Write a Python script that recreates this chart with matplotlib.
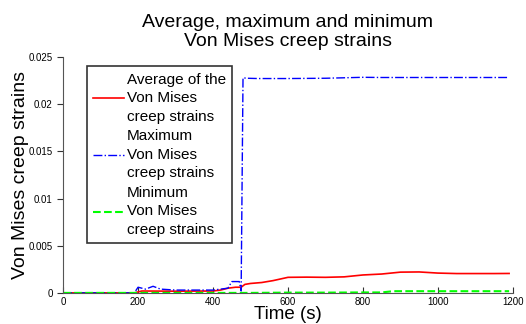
import matplotlib.pyplot as plt
import numpy as np

plt.rcParams['font.family'] = ['Liberation Sans', 'DejaVu Sans']

# time samples (s) and strain curves
t_avg = [0, 190, 210, 300, 400, 420, 440, 460, 475, 485, 500, 530, 560, 600, 650, 700, 750, 800, 850, 900, 950, 1000, 1050, 1100, 1150, 1190]
avg = [0, 0, 0.0002, 0.00018, 0.0002, 0.0003, 0.0005, 0.0006, 0.0006, 0.0009, 0.001, 0.0011, 0.0013, 0.00165, 0.00167, 0.00165, 0.0017, 0.0019, 0.0020, 0.0022, 0.00222, 0.0021, 0.00205, 0.00205, 0.00205, 0.00206]

t_max = [0, 190, 200, 220, 240, 260, 300, 350, 400, 420, 440, 450, 470, 475, 480, 490, 520, 600, 700, 750, 800, 850, 900, 1000, 1100, 1190]
vmax = [0, 0, 0.0006, 0.0004, 0.0007, 0.0004, 0.0003, 0.0003, 0.0003, 0.0004, 0.0005, 0.0012, 0.0012, 0.0002, 0.0228, 0.02275, 0.02272, 0.02272, 0.02275, 0.0228, 0.02285, 0.02283, 0.02283, 0.02283, 0.02283, 0.02283]

t_min = [0, 400, 500, 600, 700, 800, 850, 880, 900, 1000, 1100, 1190]
vmin = [0, 0, 0, 0.00003, 0.00003, 0.00005, 0.00005, 0.00018, 0.00018, 0.00018, 0.00018, 0.00018]

fig = plt.figure(figsize=(5.26, 3.24), dpi=100)
ax = fig.add_axes([0.12, 0.096, 0.855, 0.728])

ax.plot(t_avg, avg, '-', color='#ff0000', lw=1.2, label='Average of the\nVon Mises\ncreep strains')
ax.plot(t_max, vmax, '-.', color='#0000ff', lw=1.0, label='Maximum\nVon Mises\ncreep strains')
ax.plot(t_min, vmin, '--', color='#00ff00', lw=1.5, label='Minimum\nVon Mises\ncreep strains')

ax.set_xlim(0, 1200)
ax.set_ylim(0, 0.025)
ax.set_xticks([0, 200, 400, 600, 800, 1000, 1200])
ax.set_yticks([0, 0.005, 0.01, 0.015, 0.02, 0.025])
ax.set_yticklabels(['0', '0.005', '0.01', '0.015', '0.02', '0.025'])

for s in ['top', 'right']:
    ax.spines[s].set_visible(False)
for s in ['left', 'bottom']:
    ax.spines[s].set_color('#555555')
ax.tick_params(axis='x', direction='in', length=4, labelsize=7, color='#333333', pad=3)
ax.tick_params(axis='y', direction='out', length=4, labelsize=7, color='#333333')

ax.set_xlabel('Time (s)', fontsize=13.5, labelpad=-1)
ax.set_ylabel('Von Mises creep strains', fontsize=14, labelpad=0)
ax.set_title('Average, maximum and minimum\nVon Mises creep strains', fontsize=14, linespacing=1.15, pad=8)

leg = ax.legend(loc='upper left', bbox_to_anchor=(0.053, 0.96), fontsize=11, frameon=True,
                fancybox=False, edgecolor='black', handlelength=2.0, labelspacing=0.35,
                borderpad=0.4, handletextpad=0.2, borderaxespad=0)
leg.get_frame().set_linewidth(1.2)
for txt in leg.get_texts():
    txt.set_linespacing(1.42)

plt.savefig('out.png', dpi=100)
